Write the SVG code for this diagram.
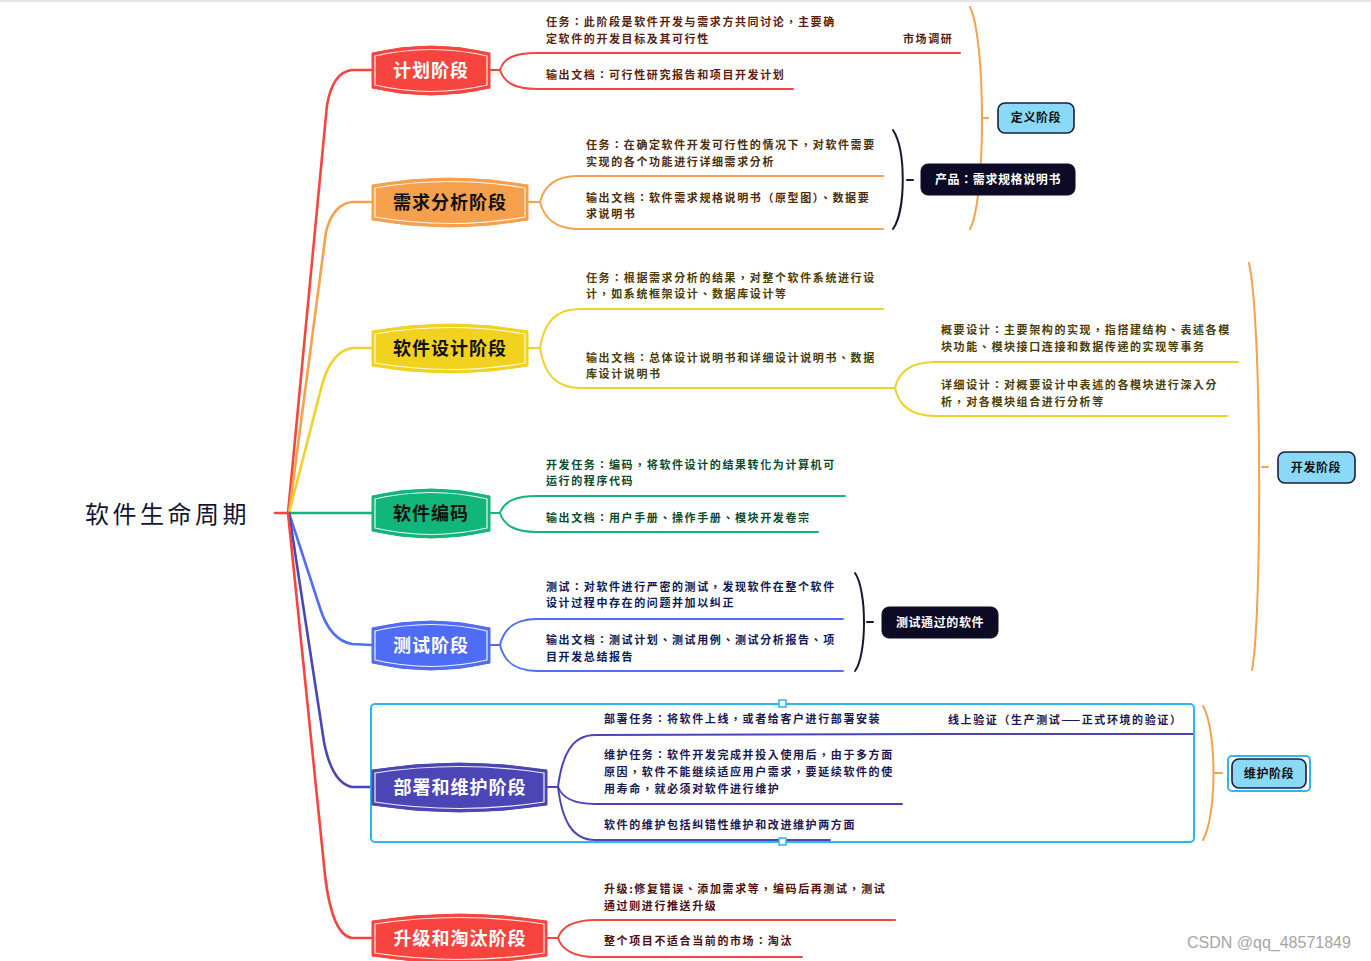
<svg xmlns="http://www.w3.org/2000/svg" width="1371" height="961" viewBox="0 0 1371 961">
<style>
.t{font-family:"Noto Sans CJK TC","Noto Sans CJK SC","Noto Sans",sans-serif;font-size:11px;letter-spacing:1.6px;font-weight:bold}
.nt{font-family:"Noto Sans CJK SC","Noto Sans",sans-serif;font-size:18px;font-weight:bold;letter-spacing:1px;text-anchor:middle}
.st{font-family:"Noto Sans CJK TC","Noto Sans CJK SC","Noto Sans",sans-serif;font-size:12px;font-weight:bold;letter-spacing:0.6px;text-anchor:middle}
.ln{fill:none;stroke-width:2;stroke-linecap:round}
.br{fill:none;stroke-width:2.6;stroke-linecap:round}
.in{fill:none;stroke:#fff;stroke-width:1.2;opacity:0.9}
.lb{fill:#8ad9f6;stroke:#1c1c3c;stroke-width:1.6}
.dk{fill:#0c0a24;stroke:#0c0a24;stroke-width:1}
.red{stroke:#f5453f}.org{stroke:#f4a24c}.yel{stroke:#f0d12a}.grn{stroke:#12b57a}.blu{stroke:#4f6ef5}.ind{stroke:#4a46b8}.blk{stroke:#1a1830}
</style>
<rect x="0" y="0" width="1371" height="2" fill="#e6e6e6"/>

<g id="connectors">
  <path class="br red" d="M275,513 L289,513"/>
  <path class="br red" d="M288,513 L327,105 Q333,72 352,70 L372,70"/>
  <path class="br org" d="M289,513 L326,232 Q333,204 352,202 L372,202"/>
  <path class="br yel" d="M289,513 L322,385 Q332,350 353,348 L372,348"/>
  <path class="br grn" d="M289,513 L372,513"/>
  <path class="br blu" d="M289,513 L320,608 Q330,640 352,644 L372,645"/>
  <path class="br ind" d="M289,513 L324,742 Q332,783 352,787 L372,787"/>
  <path class="br red" d="M288,513 L325,875 Q332,935 352,938 L372,938"/>

  <path class="ln red" d="M490,70 L500,70 C504,58 514,53 537,53 L960,53"/>
  <path class="ln red" d="M500,70 C504,82 514,89 537,89 L793,89"/>
  <path class="ln org" d="M528,202 L540,202 C544,186 556,176 578,176 L883,176"/>
  <path class="ln org" d="M540,202 C544,218 556,229 578,229 L883,229"/>
  <path class="ln yel" d="M528,348 L540,348 C544,322 556,309 580,309 L883,309"/>
  <path class="ln yel" d="M540,348 C544,374 556,388 580,388 L895,388"/>
  <path class="ln yel" d="M895,388 C899,370 912,362 935,362 L1238,362"/>
  <path class="ln yel" d="M895,388 C899,406 912,416 935,416 L1227,416"/>
  <path class="ln grn" d="M490,513 L500,513 C504,502 514,496 537,496 L845,496"/>
  <path class="ln grn" d="M500,513 C504,525 514,532 537,532 L818,532"/>
  <path class="ln blu" d="M490,645 L500,645 C504,629 514,619 537,619 L843,619"/>
  <path class="ln blu" d="M500,645 C504,661 514,671 537,671 L843,671"/>
  <path class="ln ind" d="M547,787 L558,787 C562,755 572,735 595,735 L940,734 L1193,734"/>
  <path class="ln ind" d="M558,787 C562,797 572,804 595,804 L902,804"/>
  <path class="ln ind" d="M558,787 C562,820 572,840 595,840 L830,840"/>
  <path class="ln red" d="M547,938 L558,938 C562,926 574,920 596,920 L895,920"/>
  <path class="ln red" d="M558,938 C562,950 574,957 596,957 L802,957"/>

  <path class="ln blk" d="M893,130 C906,150 906,210 893,229"/>
  <path class="ln blk" d="M907,180 L913,180"/>
  <path class="ln org" d="M970,7 C986,40 986,200 970,229"/>
  <path class="ln org" d="M982,118 L988,118"/>
  <path class="ln org" d="M1249,263 C1262,320 1262,620 1252,670"/>
  <path class="ln org" d="M1262,467 L1268,467"/>
  <path class="ln blk" d="M855,573 C867,590 867,655 855,671"/>
  <path class="ln blk" d="M867,622 L873,622"/>
  <path class="ln org" d="M1203,706 C1217,730 1217,815 1203,840"/>
  <path class="ln org" d="M1215,773 L1222,773"/>
</g>

<g id="root">
  <text x="85" y="523" font-family="'Noto Sans CJK SC','Noto Sans',sans-serif" font-size="24" letter-spacing="3.5" fill="#141432">软件生命周期</text>
</g>

<g id="n-plan">
  <path d="M372,53 Q431,39 490,53 L490,88 Q431,102 372,88 Z" fill="#f8443f" stroke="#f8443f"/>
  <path class="in" d="M375,56 Q431,43 487,56 L487,85 Q431,98 375,85 Z"/>
  <text class="nt" x="431" y="77" fill="#fff">计划阶段</text>
</g>
<g id="n-plan-sub">
  <text class="t" x="546" y="26" fill="#5a1e10">任务：此阶段是软件开发与需求方共同讨论，主要确</text>
  <text class="t" x="546" y="43" fill="#5a1e10">定软件的开发目标及其可行性</text>
  <text class="t" x="903" y="43" fill="#5a1e10">市场调研</text>
  <text class="t" x="546" y="79" fill="#5a1e10">输出文档：可行性研究报告和项目开发计划</text>
</g>

<g id="n-req">
  <path d="M372,185 Q450,171 528,185 L528,220 Q450,234 372,220 Z" fill="#f5a04c" stroke="#f5a04c"/>
  <path class="in" d="M375,188 Q450,175 525,188 L525,217 Q450,230 375,217 Z"/>
  <text class="nt" x="450" y="209" fill="#111">需求分析阶段</text>
</g>
<g id="n-req-sub">
  <text class="t" x="586" y="149" fill="#4d2d0d">任务：在确定软件开发可行性的情况下，对软件需要</text>
  <text class="t" x="586" y="166" fill="#4d2d0d">实现的各个功能进行详细需求分析</text>
  <text class="t" x="586" y="202" fill="#4d2d0d">输出文档：软件需求规格说明书（原型图）、数据要</text>
  <text class="t" x="586" y="218" fill="#4d2d0d">求说明书</text>
</g>

<g id="n-product">
  <rect class="dk" x="921" y="164" width="154" height="31" rx="7"/>
  <text class="st" x="998" y="184" fill="#fff">产品：需求规格说明书</text>
</g>
<g id="n-define">
  <rect class="lb" x="998" y="103" width="76" height="30" rx="7"/>
  <text class="st" x="1036" y="122" fill="#111">定义阶段</text>
</g>

<g id="n-design">
  <path d="M372,331 Q450,317 528,331 L528,366 Q450,380 372,366 Z" fill="#f1d21e" stroke="#f1d21e"/>
  <path class="in" d="M375,334 Q450,321 525,334 L525,363 Q450,376 375,363 Z"/>
  <text class="nt" x="450" y="355" fill="#111">软件设计阶段</text>
</g>
<g id="n-design-sub">
  <text class="t" x="586" y="282" fill="#4a3d05">任务：根据需求分析的结果，对整个软件系统进行设</text>
  <text class="t" x="586" y="298" fill="#4a3d05">计，如系统框架设计、数据库设计等</text>
  <text class="t" x="586" y="362" fill="#4a3d05">输出文档：总体设计说明书和详细设计说明书、数据</text>
  <text class="t" x="586" y="378" fill="#4a3d05">库设计说明书</text>
  <text class="t" x="941" y="334" fill="#4a3d05">概要设计：主要架构的实现，指搭建结构、表述各模</text>
  <text class="t" x="941" y="351" fill="#4a3d05">块功能、模块接口连接和数据传递的实现等事务</text>
  <text class="t" x="941" y="389" fill="#4a3d05">详细设计：对概要设计中表述的各模块进行深入分</text>
  <text class="t" x="941" y="406" fill="#4a3d05">析，对各模块组合进行分析等</text>
</g>

<g id="n-dev">
  <rect class="lb" x="1278" y="452" width="77" height="31" rx="7"/>
  <text class="st" x="1316" y="472" fill="#111">开发阶段</text>
</g>

<g id="n-code">
  <path d="M372,496 Q431,482 490,496 L490,531 Q431,545 372,531 Z" fill="#10b67a" stroke="#10b67a"/>
  <path class="in" d="M375,499 Q431,486 487,499 L487,528 Q431,541 375,528 Z"/>
  <text class="nt" x="431" y="520" fill="#111">软件编码</text>
</g>
<g id="n-code-sub">
  <text class="t" x="546" y="469" fill="#0b4a2e">开发任务：编码，将软件设计的结果转化为计算机可</text>
  <text class="t" x="546" y="485" fill="#0b4a2e">运行的程序代码</text>
  <text class="t" x="546" y="522" fill="#0b4a2e">输出文档：用户手册、操作手册、模块开发卷宗</text>
</g>

<g id="n-test">
  <path d="M372,628 Q431,614 490,628 L490,663 Q431,677 372,663 Z" fill="#4e6cf5" stroke="#4e6cf5"/>
  <path class="in" d="M375,631 Q431,618 487,631 L487,660 Q431,673 375,660 Z"/>
  <text class="nt" x="431" y="652" fill="#fff">测试阶段</text>
</g>
<g id="n-test-sub">
  <text class="t" x="546" y="591" fill="#0d1a55">测试：对软件进行严密的测试，发现软件在整个软件</text>
  <text class="t" x="546" y="607" fill="#0d1a55">设计过程中存在的问题并加以纠正</text>
  <text class="t" x="546" y="644" fill="#0d1a55">输出文档：测试计划、测试用例、测试分析报告、项</text>
  <text class="t" x="546" y="661" fill="#0d1a55">目开发总结报告</text>
</g>
<g id="n-passed">
  <rect class="dk" x="882" y="607" width="116" height="31" rx="7"/>
  <text class="st" x="940" y="627" fill="#fff">测试通过的软件</text>
</g>

<g id="selection">
  <rect x="371" y="704" width="823" height="138" rx="4" fill="none" stroke="#2db4f4" stroke-width="2"/>
  <rect x="779" y="700" width="7" height="7" fill="#fff" stroke="#2db4f4" stroke-width="1.5"/>
  <rect x="779" y="838" width="7" height="7" fill="#fff" stroke="#2db4f4" stroke-width="1.5"/>
</g>

<g id="n-deploy">
  <path d="M372,770 Q459,756 547,770 L547,805 Q459,819 372,805 Z" fill="#4b45b6" stroke="#4b45b6"/>
  <path class="in" d="M375,773 Q459,760 544,773 L544,802 Q459,815 375,802 Z"/>
  <text class="nt" x="460" y="794" fill="#fff">部署和维护阶段</text>
</g>
<g id="n-deploy-sub">
  <text class="t" x="604" y="723" fill="#1b1850">部署任务：将软件上线，或者给客户进行部署安装</text>
  <text class="t" x="948" y="724" fill="#1b1850">线上验证（生产测试——正式环境的验证）</text>
  <text class="t" x="604" y="759" fill="#1b1850">维护任务：软件开发完成并投入使用后，由于多方面</text>
  <text class="t" x="604" y="776" fill="#1b1850">原因，软件不能继续适应用户需求，要延续软件的使</text>
  <text class="t" x="604" y="793" fill="#1b1850">用寿命，就必须对软件进行维护</text>
  <text class="t" x="604" y="829" fill="#1b1850">软件的维护包括纠错性维护和改进维护两方面</text>
</g>
<g id="n-maint">
  <rect x="1228" y="756" width="82" height="35" rx="4" fill="none" stroke="#2db4f4" stroke-width="2"/>
  <rect class="lb" x="1232" y="759" width="74" height="29" rx="7"/>
  <text class="st" x="1269" y="778" fill="#111">维护阶段</text>
</g>

<g id="n-retire">
  <path d="M372,921 Q459,907 547,921 L547,956 Q459,970 372,956 Z" fill="#f8443f" stroke="#f8443f"/>
  <path class="in" d="M375,924 Q459,911 544,924 L544,953 Q459,966 375,953 Z"/>
  <text class="nt" x="460" y="945" fill="#fff">升级和淘汰阶段</text>
</g>
<g id="n-retire-sub">
  <text class="t" x="604" y="893" fill="#4e1010">升级:修复错误、添加需求等，编码后再测试，测试</text>
  <text class="t" x="604" y="910" fill="#4e1010">通过则进行推送升级</text>
  <text class="t" x="604" y="945" fill="#4e1010">整个项目不适合当前的市场：淘汰</text>
</g>

<text x="1187" y="948" font-family="'Liberation Sans',sans-serif" font-size="16" fill="#a6a6a6">CSDN @qq_48571849</text>
</svg>
